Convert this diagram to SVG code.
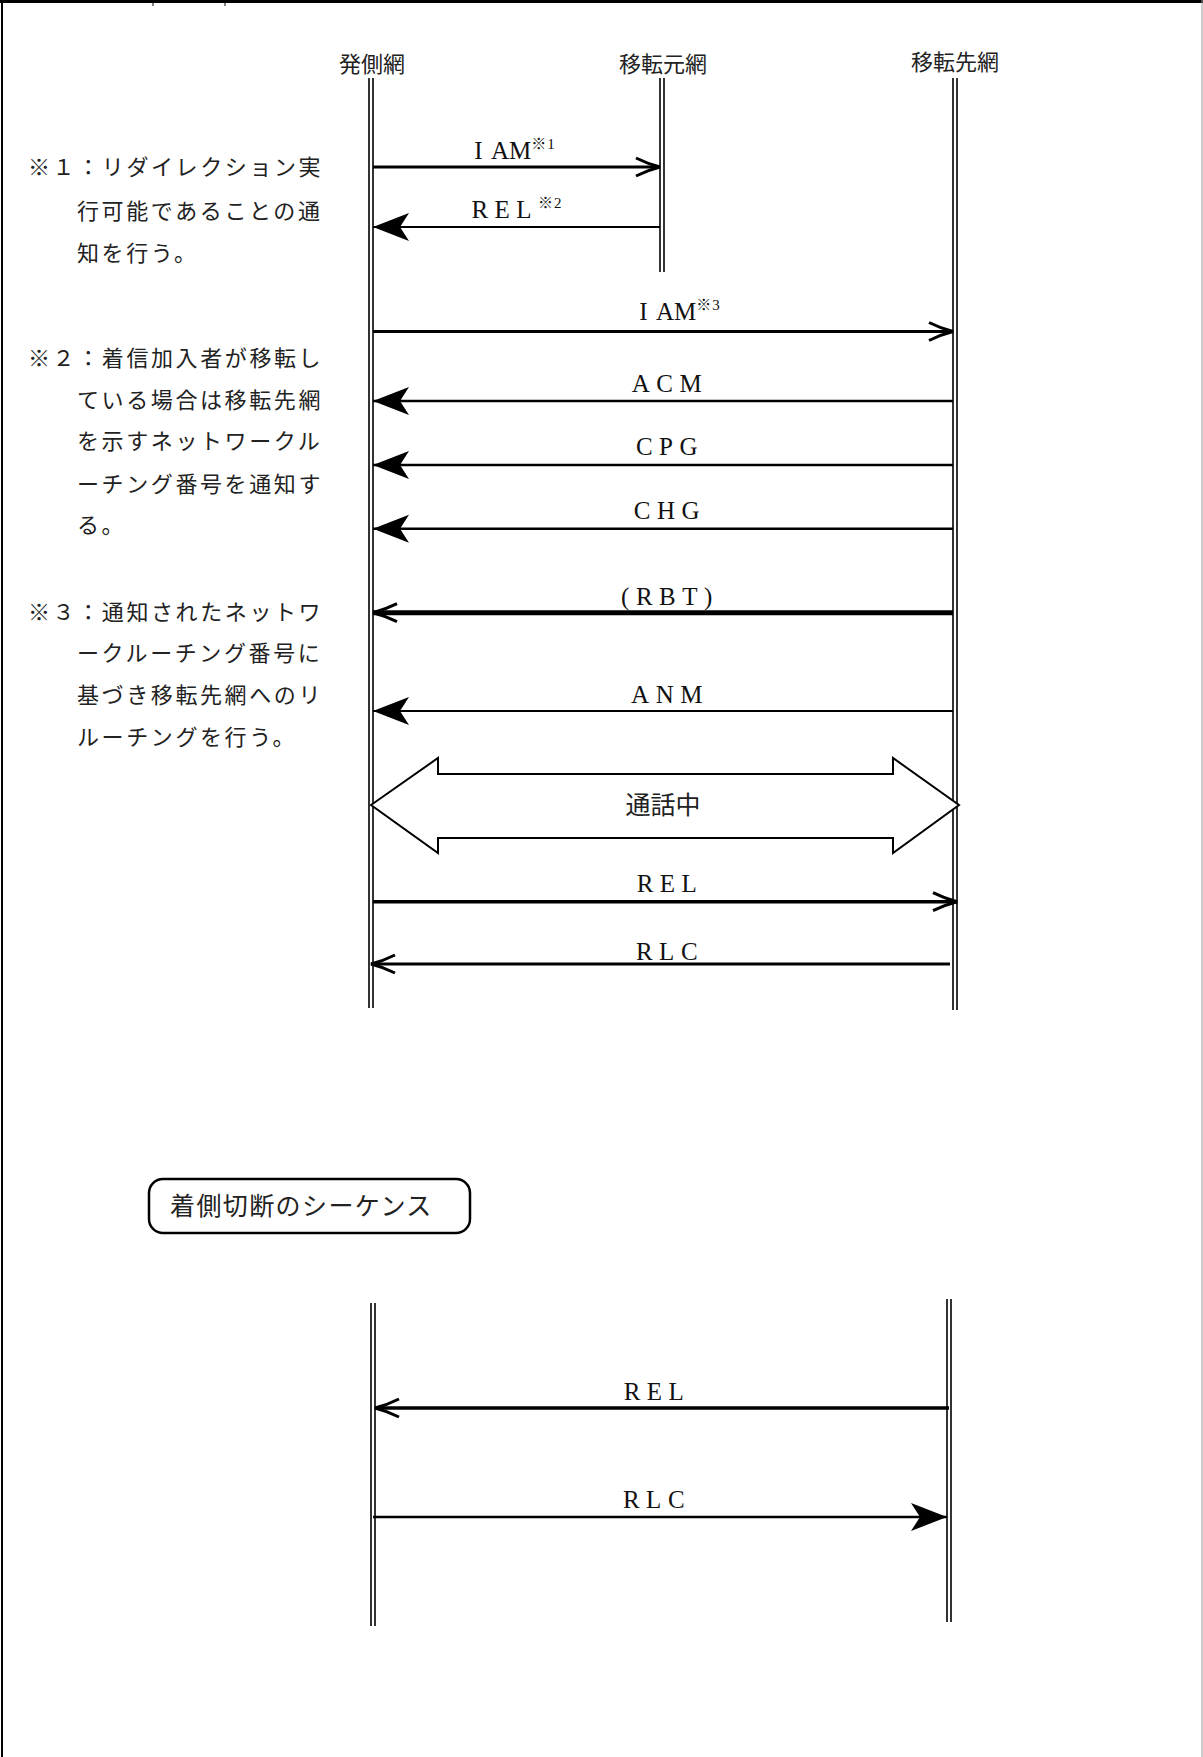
<svg xmlns="http://www.w3.org/2000/svg" width="1203" height="1757" viewBox="0 0 1203 1757">
<style>
.hdr{font-family:"Noto Sans CJK JP",sans-serif;font-size:22px;fill:#222;text-anchor:middle}
.note{font-family:"Noto Sans CJK JP",sans-serif;font-size:22px;letter-spacing:2.6px;fill:#222}
.lbl{font-family:"Liberation Serif","Noto Sans CJK JP",serif;font-size:25px;letter-spacing:6.5px;fill:#111;text-anchor:middle}
.sup{font-size:15px;letter-spacing:1px}
.life{stroke:#000;stroke-width:1.6;fill:none}
.msg{stroke:#000;fill:none}
.big{font-family:"Noto Sans CJK JP",sans-serif;font-size:25px;fill:#222}
</style>
<defs>
<marker id="barb" viewBox="0 0 28 22" refX="26" refY="11" markerWidth="28" markerHeight="22" markerUnits="userSpaceOnUse" orient="auto">
<path d="M2,2 Q14,8 26,11 Q14,14 2,20" fill="none" stroke="#000" stroke-width="3"/>
</marker>
<marker id="stealth" viewBox="0 0 36 30" refX="36" refY="15" markerWidth="36" markerHeight="30" markerUnits="userSpaceOnUse" orient="auto">
<path d="M36,15 L0,1 L9,15 L0,29 Z" fill="#000"/>
</marker>
</defs>
<rect width="1203" height="1757" fill="#fff"/>
<g id="frame">
<line x1="0" y1="1.5" x2="1203" y2="1.5" stroke="#000" stroke-width="3"/>
<line x1="2" y1="0" x2="2" y2="1757" stroke="#000" stroke-width="2"/>
<line x1="1202" y1="0" x2="1202" y2="1757" stroke="#999" stroke-width="1"/>
<line x1="153" y1="0" x2="153" y2="6" stroke="#000" stroke-width="1"/>
<line x1="225" y1="0" x2="225" y2="6" stroke="#000" stroke-width="1"/>
</g>
<g id="node-hassoku">
<text class="hdr" x="372" y="72">発側網</text>
<line class="life" x1="369" y1="78" x2="369" y2="1008"/>
<line class="life" x1="373" y1="78" x2="373" y2="1008"/>
</g>
<g id="node-itenmoto">
<text class="hdr" x="663" y="72">移転元網</text>
<line class="life" x1="660" y1="78" x2="660" y2="272"/>
<line class="life" x1="664" y1="78" x2="664" y2="272"/>
</g>
<g id="node-itensaki">
<text class="hdr" x="955" y="70">移転先網</text>
<line class="life" x1="953" y1="78" x2="953" y2="1010"/>
<line class="life" x1="957" y1="78" x2="957" y2="1010"/>
</g>
<g id="notes">
<text class="note" x="28" y="175">※１：リダイレクション実</text>
<text class="note" x="77" y="218.6">行可能であることの通</text>
<text class="note" x="77" y="261">知を行う。</text>
<text class="note" x="28" y="366">※２：着信加入者が移転し</text>
<text class="note" x="77" y="408">ている場合は移転先網</text>
<text class="note" x="77" y="449">を示すネットワークル</text>
<text class="note" x="77" y="492">ーチング番号を通知す</text>
<text class="note" x="77" y="533">る。</text>
<text class="note" x="28" y="619.6">※３：通知されたネットワ</text>
<text class="note" x="77" y="661">ークルーチング番号に</text>
<text class="note" x="77" y="702.5">基づき移転先網へのリ</text>
<text class="note" x="77" y="745">ルーチングを行う。</text>
</g>
<g id="connectors">
<line class="msg" x1="373" y1="167" x2="660" y2="167" stroke-width="3" marker-end="url(#barb)"/>
<line class="msg" x1="660" y1="227" x2="373" y2="227" stroke-width="2" marker-end="url(#stealth)"/>
<line class="msg" x1="373" y1="331.5" x2="953" y2="331.5" stroke-width="3" marker-end="url(#barb)"/>
<line class="msg" x1="953" y1="401" x2="373" y2="401" stroke-width="2.5" marker-end="url(#stealth)"/>
<line class="msg" x1="953" y1="465" x2="373" y2="465" stroke-width="2.5" marker-end="url(#stealth)"/>
<line class="msg" x1="953" y1="528.7" x2="373" y2="528.7" stroke-width="2.5" marker-end="url(#stealth)"/>
<line class="msg" x1="953" y1="612.7" x2="373" y2="612.7" stroke-width="5" marker-end="url(#barb)"/>
<line class="msg" x1="953" y1="711" x2="373" y2="711" stroke-width="2" marker-end="url(#stealth)"/>
<line class="msg" x1="373" y1="901.7" x2="957" y2="901.7" stroke-width="3.5" marker-end="url(#barb)"/>
<line class="msg" x1="950" y1="964" x2="371" y2="964" stroke-width="3" marker-end="url(#barb)"/>
<line class="msg" x1="949" y1="1408" x2="375" y2="1408" stroke-width="3.5" marker-end="url(#barb)"/>
<line class="msg" x1="373" y1="1517" x2="947" y2="1517" stroke-width="2.5" marker-end="url(#stealth)"/>
</g>
<g id="labels">
<text class="lbl" x="515" y="158.5">I<tspan dx="2" letter-spacing="0">AM</tspan><tspan class="sup" dy="-10">※1</tspan></text>
<text class="lbl" x="517" y="218">REL<tspan class="sup" dy="-10">※2</tspan></text>
<text class="lbl" x="680" y="320">I<tspan dx="2" letter-spacing="0">AM</tspan><tspan class="sup" dy="-10">※3</tspan></text>
<text class="lbl" x="670" y="392">ACM</text>
<text class="lbl" x="670" y="455">CPG</text>
<text class="lbl" x="670" y="519">CHG</text>
<text class="lbl" x="670" y="605">(RBT)</text>
<text class="lbl" x="670" y="703">ANM</text>
<text class="lbl" x="670" y="892">REL</text>
<text class="lbl" x="670" y="959.5">RLC</text>
</g>
<g id="node-tsuwachu">
<polygon points="371,805 438,758 438,774 893,774 893,758 959,805 893,853 893,838 438,838 438,853" fill="#fff" stroke="#000" stroke-width="2"/>
<text class="big" x="663" y="814" text-anchor="middle">通話中</text>
</g>
<g id="node-title">
<rect x="149" y="1179" width="321" height="54" rx="14" fill="#fff" stroke="#000" stroke-width="2.5"/>
<text class="big" x="170" y="1215" letter-spacing="1.4">着側切断のシーケンス</text>
</g>
<g id="node-hassoku-2">
<line class="life" x1="371" y1="1303" x2="371" y2="1626"/>
<line class="life" x1="375" y1="1303" x2="375" y2="1626"/>
</g>
<g id="node-itensaki-2">
<line class="life" x1="947" y1="1299" x2="947" y2="1622"/>
<line class="life" x1="951" y1="1299" x2="951" y2="1622"/>
</g>
<g id="labels-2">
<text class="lbl" x="657" y="1400">REL</text>
<text class="lbl" x="657" y="1508">RLC</text>
</g>
</svg>
